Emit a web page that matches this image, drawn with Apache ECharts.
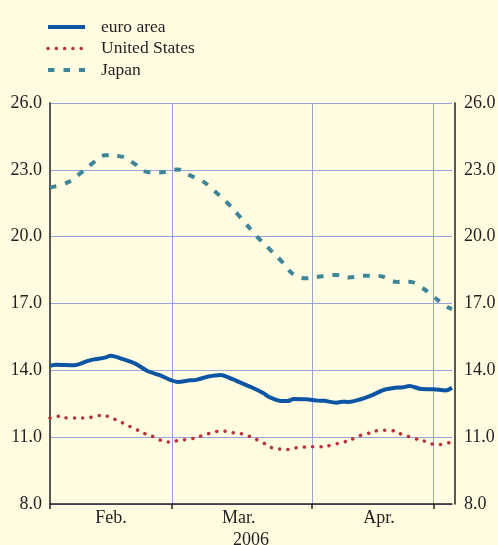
<!doctype html>
<html lang="en">
<head>
    <meta charset="UTF-8">
    <title>Exchange rate volatility</title>
    <style>
        * {
            margin: 0;
            padding: 0;
        }

        body {
            background: #fffce1;
        }

        #chart {
            width: 498px;
            height: 545px;
        }
    </style>
</head>
<body>
<div id="chart"></div>
<script src="https://cdn.jsdelivr.net/npm/echarts@6/dist/echarts.min.js"></script>
<script type="application/javascript">
    // business days shown on the axis, Feb - early May 2006
    const febDays = [1, 2, 3, 6, 7, 8, 9, 10, 13, 14, 15, 16, 17, 20, 21, 22, 23, 24, 27, 28];
    const marDays = [1, 2, 3, 6, 7, 8, 9, 10, 13, 14, 15, 16, 17, 20, 21, 22, 23, 24, 27, 28, 29, 30, 31];
    const aprDays = [3, 4, 5, 6, 7, 10, 11, 12, 13, 14, 17, 18, 19, 20, 21, 24, 25, 26, 27, 28];
    const mayDays = [1, 2, 3, 4];

    const monthLabels = {'Feb 15': 'Feb.', 'Mar 16': 'Mar.', 'Apr 18': 'Apr.'};
    const monthStarts = ['Feb 1', 'Mar 1', 'Apr 3', 'May 1'];

    const euroArea = [
        ['Feb 1', 14.2], ['Feb 2', 14.25], ['Feb 7', 14.23], ['Feb 9', 14.4], ['Feb 10', 14.48],
        ['Feb 14', 14.57], ['Feb 15', 14.66], ['Feb 17', 14.5], ['Feb 21', 14.3], ['Feb 23', 13.97],
        ['Feb 27', 13.78], ['Mar 2', 13.48], ['Mar 6', 13.55], ['Mar 7', 13.57], ['Mar 9', 13.72],
        ['Mar 13', 13.79], ['Mar 15', 13.6], ['Mar 16', 13.48], ['Mar 20', 13.25], ['Mar 22', 12.98],
        ['Mar 23', 12.8], ['Mar 27', 12.62], ['Mar 28', 12.62], ['Mar 29', 12.71], ['Mar 31', 12.7],
        ['Apr 4', 12.64], ['Apr 5', 12.63], ['Apr 7', 12.55], ['Apr 10', 12.59], ['Apr 11', 12.58],
        ['Apr 13', 12.7], ['Apr 17', 12.9], ['Apr 19', 13.14], ['Apr 21', 13.23], ['Apr 24', 13.24],
        ['Apr 25', 13.3], ['Apr 27', 13.16], ['May 1', 13.15], ['May 3', 13.1], ['May 4', 13.22]
    ];

    const unitedStates = [
        ['Feb 1', 11.86], ['Feb 2', 11.94], ['Feb 6', 11.86], ['Feb 7', 11.86], ['Feb 9', 11.86],
        ['Feb 10', 11.91], ['Feb 13', 11.97], ['Feb 15', 11.9], ['Feb 16', 11.74], ['Feb 17', 11.63],
        ['Feb 21', 11.36], ['Feb 22', 11.24], ['Feb 23', 11.1], ['Feb 24', 11.02], ['Feb 28', 10.79],
        ['Mar 1', 10.78], ['Mar 2', 10.85], ['Mar 6', 10.92], ['Mar 7', 10.98], ['Mar 8', 11.07],
        ['Mar 10', 11.23], ['Mar 13', 11.28], ['Mar 15', 11.2], ['Mar 16', 11.17], ['Mar 17', 11.12],
        ['Mar 21', 10.88], ['Mar 22', 10.75], ['Mar 23', 10.57], ['Mar 24', 10.49], ['Mar 28', 10.45],
        ['Mar 29', 10.5], ['Mar 30', 10.54], ['Apr 3', 10.57], ['Apr 4', 10.57], ['Apr 6', 10.62],
        ['Apr 7', 10.7], ['Apr 10', 10.76], ['Apr 12', 10.95], ['Apr 13', 11.08], ['Apr 14', 11.15],
        ['Apr 18', 11.3], ['Apr 19', 11.31], ['Apr 20', 11.3], ['Apr 24', 11.1], ['Apr 25', 11.02],
        ['Apr 26', 10.93], ['Apr 28', 10.78], ['May 1', 10.68], ['May 2', 10.67], ['May 4', 10.8]
    ];

    const japan = [
        ['Feb 1', 22.2], ['Feb 6', 22.45], ['Feb 8', 22.85], ['Feb 10', 23.3], ['Feb 14', 23.65],
        ['Feb 17', 23.58], ['Feb 21', 23.25], ['Feb 23', 22.9], ['Feb 27', 22.88], ['Mar 2', 23.02],
        ['Mar 6', 22.75], ['Mar 8', 22.5], ['Mar 10', 22.05], ['Mar 14', 21.55], ['Mar 16', 20.95],
        ['Mar 21', 20.0], ['Mar 23', 19.45], ['Mar 27', 18.9], ['Mar 29', 18.3], ['Mar 31', 18.13],
        ['Apr 4', 18.2], ['Apr 7', 18.28], ['Apr 11', 18.17], ['Apr 14', 18.25], ['Apr 18', 18.24],
        ['Apr 21', 17.97], ['Apr 25', 17.98], ['Apr 27', 17.72], ['May 1', 17.3], ['May 3', 16.88],
        ['May 4', 16.75]
    ];

    const days = [].concat(
        febDays.map(d => 'Feb ' + d),
        marDays.map(d => 'Mar ' + d),
        aprDays.map(d => 'Apr ' + d),
        mayDays.map(d => 'May ' + d)
    );

    const serif = 'Liberation Serif, Times New Roman, serif';
    const ink = '#231f20';
    const gridColor = '#96a3dc';

    const yAxisBase = {
        type: 'value',
        min: 8,
        max: 26,
        interval: 3,
        axisLine: {show: true, lineStyle: {color: ink, width: 1.5}},
        axisTick: {show: false},
        axisLabel: {
            color: ink,
            fontFamily: serif,
            fontSize: 18,
            formatter: v => v.toFixed(1)
        }
    };

    const chart = echarts.init(document.getElementById('chart'));
    chart.setOption({
        backgroundColor: '#fffce1',
        animation: false,
        legend: {
            orient: 'vertical',
            left: 41,
            top: 13,
            itemWidth: 37,
            itemHeight: 12,
            itemGap: 3.5,
            itemStyle: {color: 'transparent', borderColor: 'transparent', borderWidth: 0},
            lineStyle: {width: 'inherit'},
            textStyle: {
                color: ink,
                fontFamily: serif,
                fontSize: 17.5,
                padding: [0, 0, 0, 11]
            },
            data: ['euro area', 'United States', 'Japan']
        },
        grid: {left: 50, right: 46, top: 103, bottom: 41, containLabel: false, outerBoundsMode: 'none'},
        xAxis: {
            type: 'category',
            data: days,
            boundaryGap: false,
            name: '2006',
            nameLocation: 'middle',
            nameGap: 27,
            nameMoveOverlap: false,
            nameTextStyle: {color: ink, fontFamily: serif, fontSize: 18},
            axisLine: {lineStyle: {color: ink, width: 1.5}},
            axisTick: {
                length: 5,
                interval: (i, v) => monthStarts.includes(v),
                lineStyle: {color: ink, width: 1.5}
            },
            axisLabel: {
                color: ink,
                fontFamily: serif,
                fontSize: 18,
                margin: 5,
                interval: (i, v) => v in monthLabels,
                formatter: v => monthLabels[v] || ''
            },
            splitLine: {
                show: true,
                interval: (i, v) => monthStarts.includes(v) && v !== 'Feb 1',
                lineStyle: {color: gridColor, width: 1}
            }
        },
        yAxis: [
            Object.assign({}, yAxisBase, {
                position: 'left',
                axisLabel: Object.assign({}, yAxisBase.axisLabel, {margin: 8}),
                splitLine: {show: true, lineStyle: {color: gridColor, width: 1}}
            }),
            Object.assign({}, yAxisBase, {
                position: 'right',
                offset: 3,
                axisLabel: Object.assign({}, yAxisBase.axisLabel, {margin: 9}),
                splitLine: {show: false}
            })
        ],
        series: [
            {
                name: 'euro area',
                type: 'line',
                data: euroArea,
                symbol: 'none',
                smooth: 0.3,
                lineStyle: {color: '#0b55a3', width: 4},
                itemStyle: {color: '#0b55a3'}
            },
            {
                name: 'United States',
                type: 'line',
                data: unitedStates,
                symbol: 'none',
                smooth: 0.4,
                lineStyle: {color: '#b1373a', width: 3.5, type: [0.1, 8.2], cap: 'round'},
                itemStyle: {color: '#b1373a'}
            },
            {
                name: 'Japan',
                type: 'line',
                data: japan,
                symbol: 'none',
                smooth: 0.4,
                lineStyle: {color: '#3e8597', width: 4, type: [6.5, 9]},
                itemStyle: {color: '#3e8597'}
            }
        ]
    });
</script>
</body>
</html>
